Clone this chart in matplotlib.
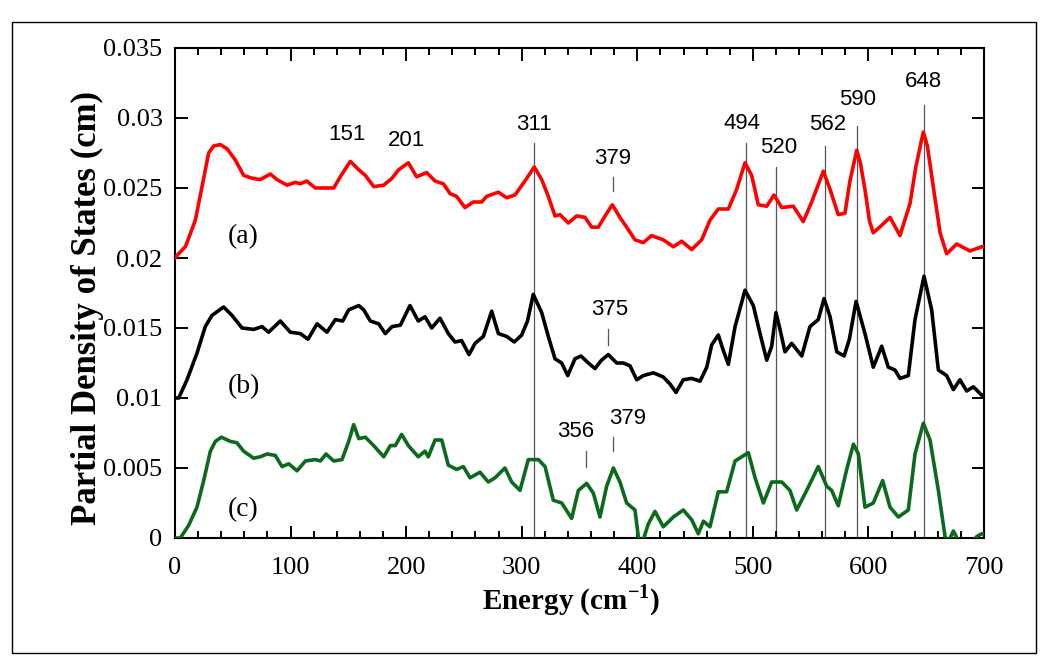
import matplotlib
matplotlib.use("Agg")
import matplotlib.pyplot as plt
from matplotlib.patches import Rectangle

plt.rcParams["mathtext.fontset"] = "custom"
plt.rcParams["mathtext.bf"] = "Liberation Serif:bold"
plt.rcParams["mathtext.rm"] = "Liberation Serif"

# (a) red curve
energy_a = [0, 3, 9, 17.6, 23.4, 29.1, 33.5, 39.2, 45, 52.2, 59.4, 66.6, 73.8, 82.5, 88.3,
            97, 104, 108.4, 114, 121.4, 130, 137.3, 143, 151.7, 159, 164.7, 171.9, 180.6,
            187.8, 193.5, 201.9, 209.1, 217.8, 225, 232.2, 238, 243.7, 250.9, 258.1, 265.3,
            269.7, 279.8, 287, 294.2, 302.8, 310.9, 317.3, 323, 328.8, 333.1, 340.3, 347.6,
            354.8, 360.6, 366.3, 372.1, 378.4, 385, 390.8, 398, 405.2, 412.4, 422.5, 431.2,
            438.4, 447.1, 455.7, 462.9, 470.1, 478.8, 486, 493.2, 499, 504.7, 512, 518.3,
            525, 535, 543.6, 550.9, 561, 566.8, 573.9, 579.7, 584, 589.9, 593, 597, 601,
            604.2, 611, 618.7, 627.3, 636, 641, 647.5, 651, 656.1, 662, 667.7, 676.4, 687.9,
            698, 700]
pdos_a = [0.0200, 0.0203, 0.0208, 0.0227, 0.0251, 0.0275, 0.0280, 0.0281, 0.0278, 0.0270,
          0.0259, 0.0257, 0.0256, 0.0260, 0.0256, 0.0252, 0.0254, 0.0253, 0.0255, 0.0250,
          0.0250, 0.0250, 0.0258, 0.0269, 0.0263, 0.0259, 0.0251, 0.0252, 0.0257, 0.0263,
          0.0268, 0.0258, 0.0261, 0.0255, 0.0253, 0.0246, 0.0244, 0.0236, 0.0240, 0.0240,
          0.0244, 0.0247, 0.0243, 0.0245, 0.0255, 0.0265, 0.0256, 0.0244, 0.0230, 0.0231,
          0.0225, 0.0230, 0.0229, 0.0222, 0.0222, 0.0230, 0.0238, 0.0229, 0.0222, 0.0213,
          0.0211, 0.0216, 0.0213, 0.0208, 0.0212, 0.0206, 0.0213, 0.0227, 0.0235, 0.0235,
          0.0249, 0.0268, 0.0259, 0.0238, 0.0237, 0.0245, 0.0236, 0.0237, 0.0226, 0.0240,
          0.0262, 0.0249, 0.0231, 0.0232, 0.0255, 0.0277, 0.0268, 0.0249, 0.0226, 0.0218,
          0.0223, 0.0229, 0.0216, 0.0239, 0.0265, 0.0290, 0.0280, 0.0251, 0.0218, 0.0203,
          0.0210, 0.0205, 0.0208, 0.0208]

# (b) black curve
energy_b = [0, 3.2, 10.4, 19, 26.2, 32, 42.1, 49.3, 58, 68.1, 75.3, 81, 91.1, 99.8, 108.4,
            115.1, 122.9, 131.5, 138.7, 145.1, 150.3, 159, 163.3, 169, 176.2, 182, 187.8,
            195, 203.3, 210.5, 216.3, 222.1, 229.3, 236.5, 242.3, 248, 254.4, 259.6, 266.8,
            274, 279.8, 287, 293.6, 300, 305, 310, 317.3, 323, 328.8, 334.6, 339.8, 346.1,
            351.3, 357.6, 363.4, 369, 374.9, 382.2, 387.9, 393.7, 399.5, 405.2, 413.9, 422.5,
            428.3, 433.5, 439.8, 447.1, 454.3, 460.1, 464.4, 470.1, 474.4, 478.8, 484.6,
            493.2, 500.4, 506.2, 512, 516.3, 520, 523.5, 527.8, 533.6, 542.3, 549.4, 556.6,
            561.6, 566.8, 572.6, 579, 583.5, 589.3, 597, 604.2, 611.5, 617.2, 623, 627.3,
            634.5, 640.3, 648.1, 654.7, 660.5, 667.7, 673.5, 679.2, 685, 690.8, 698, 700]
pdos_b = [0.0100, 0.0100, 0.0113, 0.0132, 0.0151, 0.0159, 0.0165, 0.0159, 0.0150, 0.0149,
          0.0151, 0.0147, 0.0155, 0.0147, 0.0146, 0.0142, 0.0153, 0.0147, 0.0156, 0.0155,
          0.0163, 0.0166, 0.0163, 0.0155, 0.0153, 0.0146, 0.0151, 0.0152, 0.0166, 0.0155,
          0.0158, 0.0150, 0.0157, 0.0146, 0.0140, 0.0141, 0.0131, 0.0139, 0.0144, 0.0162,
          0.0146, 0.0144, 0.0140, 0.0145, 0.0155, 0.0174, 0.0161, 0.0144, 0.0128, 0.0125,
          0.0116, 0.0128, 0.0130, 0.0125, 0.0121, 0.0127, 0.0131, 0.0125, 0.0125, 0.0123,
          0.0113, 0.0116, 0.0118, 0.0115, 0.0110, 0.0104, 0.0113, 0.0114, 0.0112, 0.0122,
          0.0138, 0.0145, 0.0134, 0.0124, 0.0151, 0.0177, 0.0166, 0.0146, 0.0127, 0.0137,
          0.0161, 0.0149, 0.0133, 0.0139, 0.0130, 0.0151, 0.0156, 0.0171, 0.0158, 0.0133,
          0.0130, 0.0142, 0.0169, 0.0146, 0.0122, 0.0137, 0.0122, 0.0120, 0.0114, 0.0116,
          0.0156, 0.0187, 0.0163, 0.0120, 0.0116, 0.0106, 0.0113, 0.0105, 0.0108, 0.0102,
          0.0102]

# (c) green curve
energy_c = [0, 4.6, 11.8, 19, 24.8, 30.6, 34.9, 40.1, 47.9, 53.6, 59.4, 68.1, 73.8, 79.6,
            86.8, 92.6, 98.4, 105.6, 112.8, 121.4, 125.8, 130.7, 137.3, 144.5, 150.3, 154.6,
            159, 164.7, 171.9, 180.6, 186.3, 190.6, 196.1, 201.9, 210.5, 216.3, 219.2, 225,
            230.8, 236.5, 243.7, 249.5, 255.3, 263.9, 271.1, 276.9, 285.5, 291.3, 298.5,
            305.7, 314.4, 320.2, 327.3, 334.6, 343.2, 349, 356.2, 362, 367.7, 373.5, 379.3,
            385, 390.8, 398, 400.9, 403.7, 409.5, 415.3, 422.5, 431.2, 439.8, 447.1, 452.8,
            457.2, 462.9, 470.1, 477.3, 484.6, 490.4, 496.1, 501.9, 509.1, 516.3, 525, 532.1,
            537.9, 546.6, 556.6, 563.9, 568.2, 573.9, 581.2, 587, 591.3, 597, 604.2, 612.3,
            618.7, 625.9, 634.5, 640.3, 647.5, 653.3, 660.5, 666.3, 669, 673.5, 677.8, 685,
            693.7, 698, 700]
pdos_c = [0.0000, 0.0000, 0.0009, 0.0022, 0.0041, 0.0062, 0.0069, 0.0072, 0.0069, 0.0068,
          0.0062, 0.0057, 0.0058, 0.0060, 0.0059, 0.0051, 0.0053, 0.0048, 0.0055, 0.0056,
          0.0055, 0.0060, 0.0055, 0.0056, 0.0069, 0.0081, 0.0071, 0.0072, 0.0066, 0.0058,
          0.0066, 0.0066, 0.0074, 0.0066, 0.0058, 0.0062, 0.0058, 0.0070, 0.0070, 0.0052,
          0.0049, 0.0051, 0.0043, 0.0047, 0.0040, 0.0043, 0.0050, 0.0040, 0.0034, 0.0056,
          0.0056, 0.0051, 0.0027, 0.0025, 0.0014, 0.0034, 0.0039, 0.0032, 0.0015, 0.0037,
          0.0050, 0.0040, 0.0025, 0.0020, 0.0001, -0.0005, 0.0010, 0.0019, 0.0008, 0.0015,
          0.0020, 0.0013, 0.0003, 0.0012, 0.0008, 0.0033, 0.0033, 0.0055, 0.0058, 0.0061,
          0.0043, 0.0025, 0.0040, 0.0040, 0.0034, 0.0020, 0.0034, 0.0051, 0.0037, 0.0034,
          0.0023, 0.0049, 0.0067, 0.0060, 0.0022, 0.0025, 0.0041, 0.0022, 0.0015, 0.0020,
          0.0060, 0.0082, 0.0070, 0.0034, 0.0001, -0.0003, 0.0005, -0.0002, -0.0008, 0.0001,
          0.0003, 0.0003]

# peak markers: long gray lines and their label text
line_peaks = [311, 494, 520, 562, 590, 648]
line_tops = [0.0282, 0.0282, 0.0265, 0.0280, 0.0294, 0.0309]
label_text = ["151", "201", "311", "379", "494", "520", "562", "590", "648",
              "375", "356", "379"]
label_x = [149, 200.5, 310.6, 378.4, 490.6, 522.6, 564.4, 590.4, 647.8,
           376.1, 346.4, 391.7]
label_y = [0.0288, 0.0284, 0.0295, 0.0271, 0.0296, 0.0279, 0.0295, 0.0313, 0.0326,
           0.0163, 0.0076, 0.00855]
# short ticks under some labels
tick_x = [379, 375, 356, 379]
tick_lo = [0.0248, 0.0138, 0.0051, 0.0062]
tick_hi = [0.0258, 0.0149, 0.0062, 0.0072]

fig = plt.figure(figsize=(10.5, 6.64), dpi=100)
ax = fig.add_axes([175 / 1050, 1 - 538 / 664, 809 / 1050, 490 / 664])

for x, top in zip(line_peaks, line_tops):
    ax.plot([x, x], [0, top], color="#555555", lw=0.9, zorder=1)
for x, lo, hi in zip(tick_x, tick_lo, tick_hi):
    ax.plot([x, x], [lo, hi], color="#555555", lw=0.9, zorder=1)

ax.plot(energy_a, pdos_a, color="#ff0000", lw=2.6, zorder=3)
ax.plot(energy_b, pdos_b, color="black", lw=2.6, zorder=3)
ax.plot(energy_c, pdos_c, color="#0c6a1c", lw=2.6, zorder=3)

for t, x, y in zip(label_text, label_x, label_y):
    ax.text(x, y, t, ha="center", va="center", fontsize=16, family="Liberation Sans")

for t, x, y in zip(["(a)", "(b)", "(c)"], [59, 60, 59], [0.0215, 0.0108, 0.0020]):
    ax.text(x, y, t, ha="center", va="center", fontsize=20, family="Liberation Serif")

ax.set_xlim(0, 700)
ax.set_ylim(0, 0.035)
ax.set_xticks(range(0, 701, 100))
ax.set_xticks(range(0, 701, 20), minor=True)
ax.set_yticks([0, 0.005, 0.01, 0.015, 0.02, 0.025, 0.03, 0.035])
ax.set_yticklabels(["0", "0.005", "0.01", "0.015", "0.02", "0.025", "0.03", "0.035"])
ax.tick_params(which="both", direction="in", top=True, right=True, width=1.4)
ax.tick_params(which="major", length=9, labelsize=19)
ax.tick_params(which="minor", length=5)
ax.tick_params(axis="x", which="major", pad=14)
ax.tick_params(axis="y", which="major", pad=9)
for lab in ax.get_xticklabels() + ax.get_yticklabels():
    lab.set_family("Liberation Serif")
for sp in ax.spines.values():
    sp.set_linewidth(1.5)

ax.set_xlabel("Energy (cm$^{\\mathbf{-1}}$)", fontsize=21, fontweight="bold",
              family="Liberation Serif")
ax.xaxis.set_label_coords(0.49, -0.127)
ax.xaxis.label.set_va("center")
ax.set_ylabel("Partial Density of States (cm)", fontsize=25, fontweight="bold",
              family="Liberation Serif")
ax.yaxis.set_label_coords(-0.108, 0.47)
ax.yaxis.label.set_va("center")

fig.patches.append(Rectangle((12 / 1050, 1 - 653 / 664), 1024 / 1050, 631 / 664,
                             transform=fig.transFigure, fill=False, lw=1.0,
                             ec="black"))

fig.savefig("out.png", dpi=100)
